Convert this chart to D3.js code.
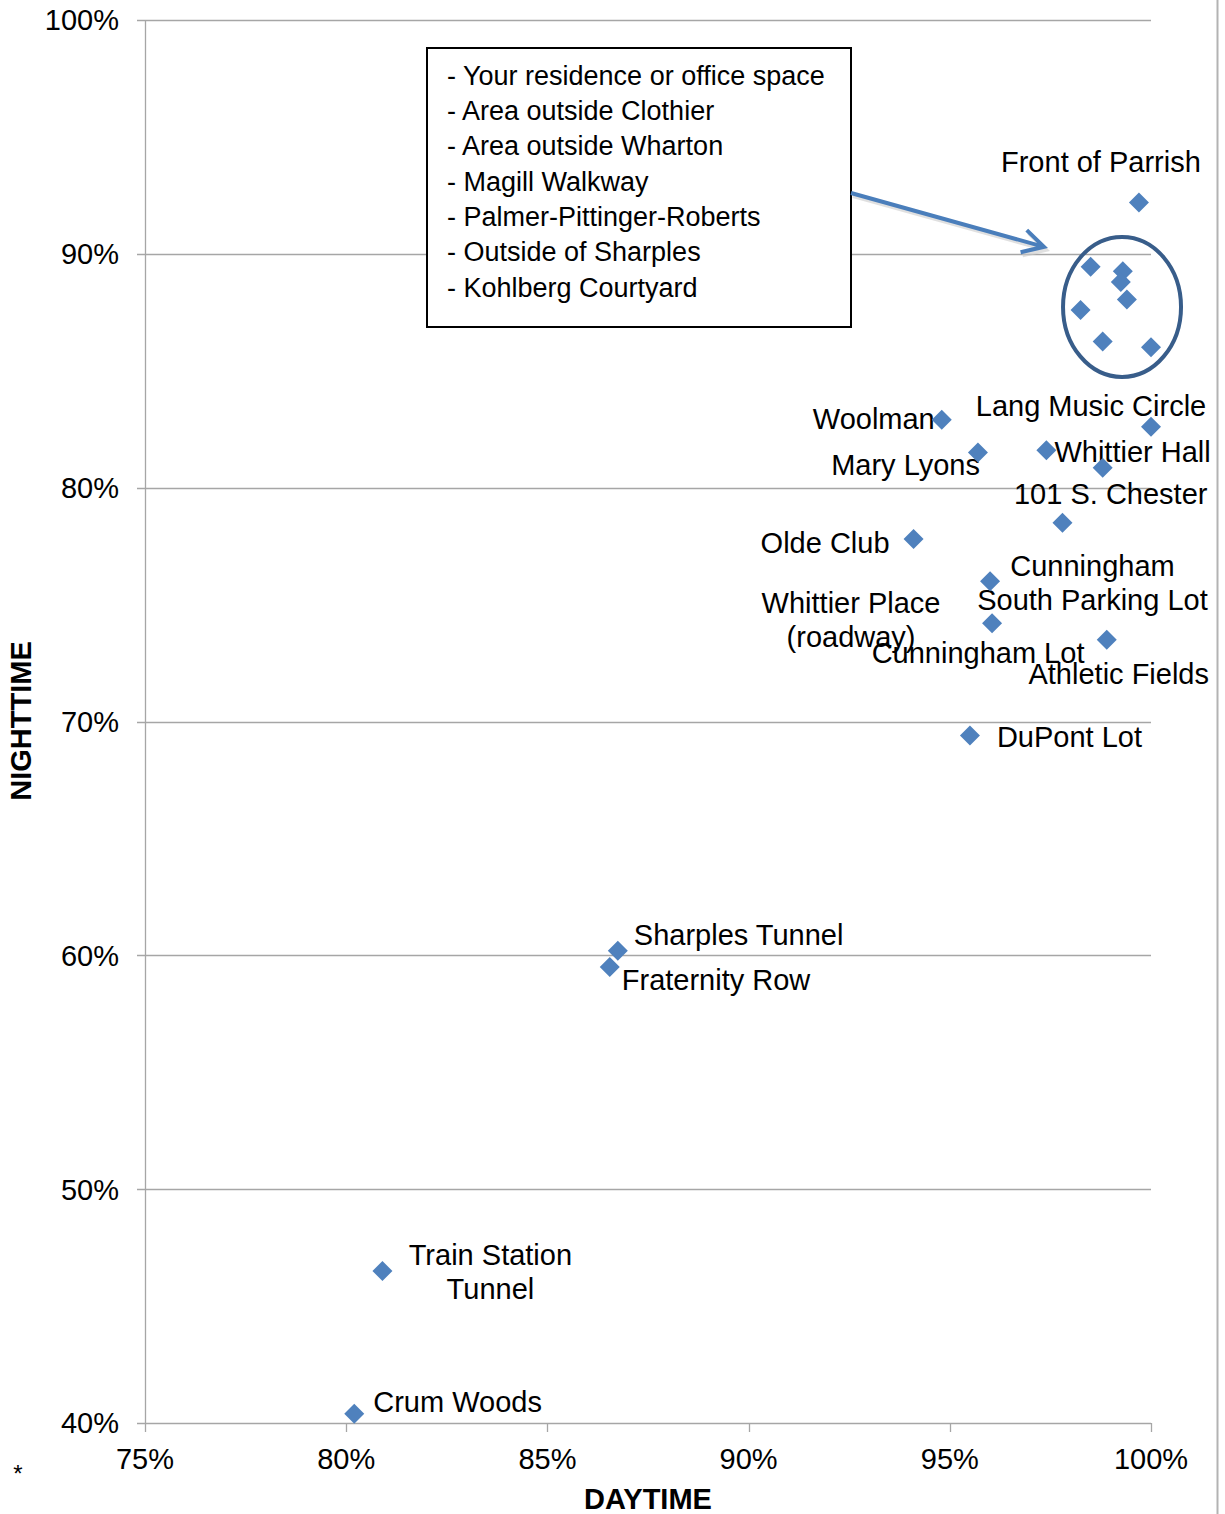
<!DOCTYPE html>
<html>
<head>
<meta charset="utf-8">
<script src="https://cdn.jsdelivr.net/npm/d3@7"></script>
<style>
  body { margin: 0; background: #fff; }
  text { font-family: "Liberation Sans", Arial, sans-serif; fill: #000; }
</style>
</head>
<body>
<div id="chart"></div>
<script>
// labelled locations (daytime %, nighttime %)
const pointNames = [
    "Front of Parrish", "Lang Music Circle", "Woolman", "Mary Lyons", "Whittier Hall",
    "101 S. Chester", "Cunningham\nSouth Parking Lot", "Olde Club", "Whittier Place\n(roadway)",
    "Cunningham Lot", "Athletic Fields", "DuPont Lot", "Sharples Tunnel", "Fraternity Row",
    "Train Station\nTunnel", "Crum Woods"
];
const daytime = [99.7, 100.0, 94.8, 95.7, 97.4, 98.8, 97.8, 94.1, 96.0, 96.05, 98.9, 95.5, 86.75, 86.55, 80.9, 80.2];
const nighttime = [92.2, 82.6, 82.9, 81.5, 81.6, 80.85, 78.5, 77.8, 76.0, 74.2, 73.5, 69.4, 60.2, 59.5, 46.5, 40.4];

// circled group, listed in the box
const clusterNames = [
    "Your residence or office space", "Area outside Clothier", "Area outside Wharton",
    "Magill Walkway", "Palmer-Pittinger-Roberts", "Outside of Sharples", "Kohlberg Courtyard"
];
const clusterDay = [98.5, 99.3, 99.25, 99.4, 98.25, 98.8, 100.0];
const clusterNight = [89.45, 89.25, 88.8, 88.05, 87.6, 86.25, 86.0];

const xTicks = [75, 80, 85, 90, 95, 100];
const yTicks = [40, 50, 60, 70, 80, 90, 100];

// where each label sits relative to its marker (px)
const labelPlacement = {
    "Front of Parrish": { anchor: "middle", dx: -38, dy: -41 },
    "Lang Music Circle": { anchor: "middle", dx: -60, dy: -21 },
    "Woolman": { anchor: "end", dx: -7, dy: -1 },
    "Mary Lyons": { anchor: "end", dx: 2, dy: 12 },
    "Whittier Hall": { anchor: "start", dx: 8, dy: 1 },
    "101 S. Chester": { anchor: "middle", dx: 8, dy: 26 },
    "Cunningham\nSouth Parking Lot": { anchor: "middle", dx: 30, dy: 43 },
    "Olde Club": { anchor: "end", dx: -24, dy: 3 },
    "Whittier Place\n(roadway)": { anchor: "middle", dx: -139, dy: 21 },
    "Cunningham Lot": { anchor: "middle", dx: -14, dy: 29 },
    "Athletic Fields": { anchor: "middle", dx: 12, dy: 34 },
    "DuPont Lot": { anchor: "start", dx: 27, dy: 1 },
    "Sharples Tunnel": { anchor: "start", dx: 16, dy: -16 },
    "Fraternity Row": { anchor: "start", dx: 12, dy: 13 },
    "Train Station\nTunnel": { anchor: "middle", dx: 108, dy: -16 },
    "Crum Woods": { anchor: "start", dx: 19, dy: -12 }
};

const width = 1225;
const height = 1514;
const markerColor = "#4f81bd";
const gridColor = "#a6a6a6";

const svg = d3.select("#chart").append("svg")
    .attr("width", width)
    .attr("height", height);

const x = d3.scaleLinear().domain([75, 100]).range([145, 1151]);
const y = d3.scaleLinear().domain([40, 100]).range([1423, 20]);

// page edge line on the right
svg.append("line")
    .attr("x1", 1217.5).attr("x2", 1217.5)
    .attr("y1", 0).attr("y2", height)
    .style("stroke", "#b3b3b3")
    .style("stroke-width", 2);

// horizontal gridlines
svg.append("g")
    .selectAll("line")
    .data(yTicks)
    .enter().append("line")
    .attr("x1", x(75) - 8)
    .attr("x2", x(100))
    .attr("y1", d => Math.round(y(d)) + 0.5)
    .attr("y2", d => Math.round(y(d)) + 0.5)
    .style("stroke", gridColor)
    .style("stroke-width", 1.3);

// y axis line
svg.append("line")
    .attr("x1", x(75) + 0.5).attr("x2", x(75) + 0.5)
    .attr("y1", y(100)).attr("y2", y(40))
    .style("stroke", gridColor)
    .style("stroke-width", 1.3);

// x axis ticks
svg.append("g")
    .selectAll("line")
    .data(xTicks)
    .enter().append("line")
    .attr("x1", d => Math.round(x(d)) + 0.5)
    .attr("x2", d => Math.round(x(d)) + 0.5)
    .attr("y1", y(40))
    .attr("y2", y(40) + 9)
    .style("stroke", gridColor)
    .style("stroke-width", 1.3);

svg.append("g")
    .selectAll("text")
    .data(yTicks)
    .enter().append("text")
    .attr("x", 119)
    .attr("y", d => y(d))
    .attr("dy", "0.36em")
    .attr("text-anchor", "end")
    .style("font-size", "29px")
    .text(d => d + "%");

svg.append("g")
    .selectAll("text")
    .data(xTicks)
    .enter().append("text")
    .attr("x", d => x(d))
    .attr("y", 1459)
    .attr("dy", "0.36em")
    .attr("text-anchor", "middle")
    .style("font-size", "29px")
    .text(d => d + "%");

// axis titles
svg.append("text")
    .attr("transform", "translate(21,721) rotate(-90)")
    .attr("dy", "0.36em")
    .attr("text-anchor", "middle")
    .style("font-size", "29px")
    .style("font-weight", "bold")
    .text("NIGHTTIME");

svg.append("text")
    .attr("x", 648)
    .attr("y", 1499)
    .attr("dy", "0.36em")
    .attr("text-anchor", "middle")
    .style("font-size", "29px")
    .style("font-weight", "bold")
    .text("DAYTIME");

svg.append("text")
    .attr("x", 18)
    .attr("y", 1482)
    .attr("text-anchor", "middle")
    .style("font-size", "24px")
    .text("*");

// labels (drawn under the markers)
const points = pointNames.map((name, i) => ({ name, day: daytime[i], night: nighttime[i] }));

const labels = svg.append("g")
    .selectAll("text")
    .data(points)
    .enter().append("text")
    .attr("text-anchor", d => labelPlacement[d.name].anchor)
    .style("font-size", "29px");

labels.each(function(d) {
    const p = labelPlacement[d.name];
    const px = x(d.day) + p.dx;
    const py = y(d.night) + p.dy;
    d3.select(this).selectAll("tspan")
        .data(d.name.split("\n"))
        .enter().append("tspan")
        .attr("x", px)
        .attr("y", (line, j) => py + j * 34)
        .attr("dy", "0.36em")
        .text(line => line);
});

// markers
const diamond = d3.symbol().type(d3.symbolSquare).size(200);
const allPoints = points.concat(clusterNames.map((name, i) => ({ name, day: clusterDay[i], night: clusterNight[i] })));

svg.append("g")
    .selectAll("path")
    .data(allPoints)
    .enter().append("path")
    .attr("d", diamond)
    .attr("transform", d => `translate(${x(d.day)},${y(d.night)}) rotate(45)`)
    .style("fill", markerColor);

// circle around the group
svg.append("ellipse")
    .attr("cx", x(99.28))
    .attr("cy", y(87.73))
    .attr("rx", 59)
    .attr("ry", 70)
    .style("fill", "none")
    .style("stroke", "#385d8a")
    .style("stroke-width", 4);

// box listing the group
const box = { x: 427, y: 48, w: 424, h: 279 };
svg.append("rect")
    .attr("x", box.x)
    .attr("y", box.y)
    .attr("width", box.w)
    .attr("height", box.h)
    .style("fill", "#fff")
    .style("stroke", "#000")
    .style("stroke-width", 2);

svg.append("g")
    .selectAll("text")
    .data(clusterNames)
    .enter().append("text")
    .attr("x", box.x + 20)
    .attr("y", (d, i) => 75 + i * 35.3)
    .attr("dy", "0.36em")
    .style("font-size", "27px")
    .text(d => "- " + d);

// arrow from box to circle
const arrowStart = [box.x + box.w, 193];
const arrowTip = [x(97.34), y(90.3)];
const ang = Math.atan2(arrowTip[1] - arrowStart[1], arrowTip[0] - arrowStart[0]);
const headLen = 24;
const armA = [arrowTip[0] - headLen * Math.cos(ang - 0.5), arrowTip[1] - headLen * Math.sin(ang - 0.5)];
const armB = [arrowTip[0] - headLen * Math.cos(ang + 0.5), arrowTip[1] - headLen * Math.sin(ang + 0.5)];

const arrow = svg.append("g");
arrow.append("path")
    .attr("d", d3.line()([arrowStart, arrowTip]) + d3.line()([armA, arrowTip, armB]))
    .attr("transform", "translate(2,3)")
    .style("fill", "none")
    .style("stroke", "#cccccc")
    .style("stroke-width", 4)
    .style("opacity", 0.6);
arrow.append("path")
    .attr("d", d3.line()([arrowStart, arrowTip]) + d3.line()([armA, arrowTip, armB]))
    .style("fill", "none")
    .style("stroke", "#4a7ebb")
    .style("stroke-width", 4)
    .style("stroke-linejoin", "miter");
</script>
</body>
</html>
